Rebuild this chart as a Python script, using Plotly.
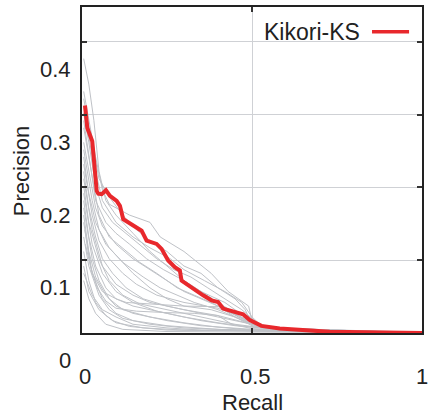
import plotly.graph_objects as go

# ---------------- data ----------------
recall_ks = [0.0088, 0.0156, 0.0302, 0.0432, 0.0479, 0.0579, 0.0705, 0.0822, 0.1019, 0.1116,
             0.1213, 0.1507, 0.1753, 0.19, 0.2194, 0.2341, 0.2534, 0.2731, 0.2878, 0.2928,
             0.3269, 0.3562, 0.3809, 0.4003, 0.415, 0.4444, 0.4737, 0.4934, 0.5278, 0.5815,
             0.6793, 0.7283, 1.0]
precision_ks = [0.3507, 0.3197, 0.3015, 0.2332, 0.2295, 0.2287, 0.2342, 0.2264, 0.2195, 0.2127,
                0.1945, 0.1854, 0.1786, 0.1649, 0.1604, 0.1536, 0.1376, 0.1284, 0.1239, 0.1101,
                0.0989, 0.0898, 0.0829, 0.0806, 0.0716, 0.0679, 0.0638, 0.0557, 0.0478, 0.0443,
                0.0419, 0.0396, 0.0379]

other_recall = [
    [0.005, 0.02, 0.035, 0.05, 0.07, 0.1, 0.15, 0.2, 0.25, 0.3, 0.35, 0.4, 0.45, 0.5, 0.6, 0.8, 1.0],
    [0.005, 0.02, 0.04, 0.06, 0.08, 0.1, 0.14, 0.2, 0.23, 0.3, 0.34, 0.38, 0.43, 0.49, 0.5, 0.52, 0.6, 0.8, 1.0],
    [0.005, 0.03, 0.05, 0.08, 0.12, 0.16, 0.2, 0.25, 0.3, 0.35, 0.4, 0.45, 0.48, 0.5, 0.6, 1.0],
    [0.005, 0.02, 0.04, 0.06, 0.09, 0.13, 0.18, 0.22, 0.27, 0.32, 0.37, 0.42, 0.47, 0.52, 0.6, 1.0],
    [0.005, 0.02, 0.04, 0.07, 0.1, 0.14, 0.19, 0.24, 0.3, 0.35, 0.42, 0.48, 0.55, 0.7, 1.0],
    [0.005, 0.03, 0.05, 0.08, 0.12, 0.17, 0.22, 0.28, 0.33, 0.38, 0.44, 0.5, 0.6, 1.0],
    [0.005, 0.02, 0.04, 0.06, 0.1, 0.15, 0.2, 0.25, 0.3, 0.35, 0.4, 0.45, 0.5, 0.6, 1.0],
    [0.005, 0.03, 0.05, 0.08, 0.12, 0.18, 0.23, 0.28, 0.33, 0.4, 0.46, 0.52, 0.7, 1.0],
    [0.005, 0.02, 0.04, 0.07, 0.1, 0.15, 0.2, 0.25, 0.3, 0.38, 0.45, 0.5, 0.6, 1.0],
    [0.005, 0.03, 0.05, 0.08, 0.12, 0.16, 0.22, 0.3, 0.4, 0.47, 0.55, 1.0],
    [0.005, 0.02, 0.04, 0.06, 0.09, 0.13, 0.18, 0.25, 0.35, 0.45, 0.55, 1.0],
    [0.005, 0.03, 0.06, 0.1, 0.15, 0.2, 0.3, 0.4, 0.5, 0.6, 1.0],
    [0.005, 0.02, 0.05, 0.08, 0.12, 0.17, 0.25, 0.35, 0.45, 0.55, 1.0],
    [0.005, 0.03, 0.06, 0.1, 0.15, 0.22, 0.3, 0.4, 0.5, 1.0],
    [0.005, 0.02, 0.04, 0.07, 0.1, 0.15, 0.25, 0.35, 0.45, 0.6, 1.0],
    [0.005, 0.03, 0.05, 0.08, 0.12, 0.2, 0.3, 0.4, 0.5, 1.0],
    [0.005, 0.02, 0.04, 0.07, 0.1, 0.15, 0.25, 0.35, 0.5, 1.0],
    [0.005, 0.03, 0.06, 0.1, 0.15, 0.25, 0.4, 1.0],
    [0.005, 0.02, 0.05, 0.08, 0.12, 0.2, 0.3, 0.5, 1.0],
    [0.005, 0.02, 0.04, 0.07, 0.1, 0.18, 0.3, 1.0],
    [0.005, 0.02, 0.05, 0.09, 0.14, 0.25, 1.0],
    [0.005, 0.02, 0.04, 0.07, 0.12, 0.25, 1.0],
    [0.005, 0.03, 0.06, 0.1, 0.15, 0.25, 0.35, 1.0],
    [0.01, 0.03, 0.06, 0.1, 0.13, 0.2, 0.3, 0.42, 0.46, 0.55, 1.0],
    [0.008, 0.025, 0.045, 0.07, 0.1, 0.16, 0.25, 0.33, 0.4, 0.44, 0.5, 1.0],
    [0.005, 0.03, 0.06, 0.1, 0.15, 0.2, 0.26, 0.3, 0.36, 0.42, 0.47, 0.5, 0.53, 0.7, 1.0],
]
other_precision = [
    [0.415, 0.38, 0.33, 0.26, 0.22, 0.20, 0.175, 0.15, 0.13, 0.11, 0.095, 0.08, 0.065, 0.05, 0.042, 0.040, 0.038],
    [0.37, 0.33, 0.28, 0.235, 0.215, 0.21, 0.2, 0.19, 0.17, 0.15, 0.135, 0.12, 0.095, 0.075, 0.055, 0.048, 0.044, 0.041, 0.039],
    [0.36, 0.30, 0.25, 0.225, 0.2, 0.18, 0.165, 0.15, 0.13, 0.12, 0.10, 0.085, 0.07, 0.05, 0.043, 0.038],
    [0.34, 0.3, 0.24, 0.21, 0.19, 0.175, 0.155, 0.14, 0.125, 0.115, 0.1, 0.085, 0.07, 0.05, 0.042, 0.038],
    [0.33, 0.28, 0.22, 0.19, 0.175, 0.16, 0.14, 0.125, 0.11, 0.095, 0.08, 0.06, 0.045, 0.04, 0.038],
    [0.32, 0.25, 0.2, 0.17, 0.155, 0.135, 0.12, 0.1, 0.09, 0.08, 0.065, 0.05, 0.042, 0.038],
    [0.3, 0.26, 0.21, 0.185, 0.16, 0.14, 0.125, 0.11, 0.095, 0.085, 0.075, 0.06, 0.048, 0.042, 0.038],
    [0.29, 0.22, 0.18, 0.155, 0.135, 0.115, 0.1, 0.09, 0.08, 0.07, 0.058, 0.046, 0.04, 0.038],
    [0.28, 0.23, 0.19, 0.16, 0.145, 0.12, 0.1, 0.085, 0.075, 0.07, 0.06, 0.05, 0.043, 0.038],
    [0.27, 0.2, 0.165, 0.14, 0.12, 0.105, 0.09, 0.08, 0.072, 0.06, 0.045, 0.038],
    [0.26, 0.21, 0.17, 0.14, 0.12, 0.1, 0.085, 0.075, 0.065, 0.055, 0.045, 0.038],
    [0.25, 0.18, 0.13, 0.105, 0.09, 0.08, 0.07, 0.062, 0.05, 0.043, 0.038],
    [0.24, 0.19, 0.14, 0.11, 0.09, 0.078, 0.07, 0.06, 0.05, 0.044, 0.038],
    [0.23, 0.16, 0.12, 0.095, 0.08, 0.068, 0.06, 0.052, 0.046, 0.038],
    [0.22, 0.17, 0.13, 0.1, 0.085, 0.075, 0.065, 0.055, 0.048, 0.042, 0.038],
    [0.21, 0.14, 0.11, 0.085, 0.07, 0.06, 0.052, 0.046, 0.042, 0.038],
    [0.2, 0.15, 0.115, 0.09, 0.075, 0.065, 0.055, 0.048, 0.043, 0.038],
    [0.19, 0.12, 0.085, 0.065, 0.055, 0.048, 0.043, 0.038],
    [0.17, 0.13, 0.09, 0.07, 0.058, 0.05, 0.045, 0.041, 0.038],
    [0.15, 0.11, 0.08, 0.062, 0.052, 0.045, 0.042, 0.038],
    [0.13, 0.095, 0.07, 0.055, 0.047, 0.042, 0.038],
    [0.11, 0.085, 0.065, 0.05, 0.043, 0.04, 0.038],
    [0.12, 0.09, 0.07, 0.06, 0.05, 0.045, 0.042, 0.038],
    [0.16, 0.12, 0.095, 0.085, 0.08, 0.078, 0.075, 0.074, 0.06, 0.045, 0.038],
    [0.18, 0.13, 0.1, 0.082, 0.072, 0.068, 0.066, 0.065, 0.062, 0.05, 0.044, 0.038],
    [0.35, 0.28, 0.22, 0.19, 0.17, 0.155, 0.14, 0.125, 0.11, 0.095, 0.08, 0.06, 0.047, 0.041, 0.038],
]

series_name = "Kikori-KS"
x_ticks = [0, 0.5, 1]
x_tick_text = ["0", "0.5", "1"]
y_label_vals = [0, 0.1, 0.2, 0.3, 0.4]
y_label_text = ["0", "0.1", "0.2", "0.3", "0.4"]
y_grid = [0.138, 0.238, 0.338, 0.438]
y_range = [0.038, 0.486]

# ---------------- figure ----------------
FONT = "Liberation Sans, Arial, Helvetica, sans-serif"
GRAY = "#bfc2c7"
RED = "#e8282c"

fig = go.Figure()
for xs, ys in zip(other_recall, other_precision):
    fig.add_trace(go.Scatter(x=xs, y=ys, mode="lines",
                             line=dict(color=GRAY, width=1), showlegend=False,
                             hoverinfo="skip"))
fig.add_trace(go.Scatter(x=recall_ks, y=precision_ks, mode="lines", name=series_name,
                         line=dict(color=RED, width=4), showlegend=False))

axis_common = dict(showline=True, linecolor="#222222", linewidth=1.5, mirror="ticks",
                   ticks="inside", ticklen=5, tickcolor="#333333", tickwidth=1.5,
                   gridcolor="#cfd1d5", gridwidth=1, zeroline=False, showticklabels=False)

fig.update_xaxes(range=[0, 1], tickvals=x_ticks, **axis_common)
fig.update_yaxes(range=y_range, tickvals=y_grid, **axis_common)


def y_paper(v):
    return (v - y_range[0]) / (y_range[1] - y_range[0])


annotations = []
for v, t in zip(y_label_vals, y_label_text):
    annotations.append(dict(x=-0.027, xref="paper", y=y_paper(v), yref="paper", text=t,
                            showarrow=False, xanchor="right", yanchor="middle",
                            font=dict(family=FONT, size=22, color="#222")))
for v, t in zip(x_ticks, x_tick_text):
    annotations.append(dict(x=v, xref="x", y=-0.134, yref="paper", text=t, showarrow=False,
                            xanchor="center", yanchor="middle", xshift=3 if v < 1 else 0,
                            font=dict(family=FONT, size=22, color="#222")))
annotations.append(dict(x=0.5, xref="paper", y=-0.213, yref="paper", text="Recall",
                        showarrow=False, xanchor="center", yanchor="middle",
                        font=dict(family=FONT, size=22, color="#222")))
annotations.append(dict(x=-0.176, xref="paper", y=0.497, yref="paper", text="Precision",
                        showarrow=False, xanchor="center", yanchor="middle", textangle=-90,
                        font=dict(family=FONT, size=22, color="#222")))
annotations.append(dict(x=0.8235, xref="paper", y=0.922, yref="paper", text=series_name,
                        showarrow=False, xanchor="right", yanchor="middle",
                        font=dict(family=FONT, size=23, color="#222")))

fig.update_layout(
    width=429, height=420,
    margin=dict(l=82, r=7, t=5, b=87),
    plot_bgcolor="white", paper_bgcolor="white",
    annotations=annotations,
    shapes=[dict(type="line", xref="paper", yref="paper", x0=0.853, x1=0.962,
                 y0=0.9238, y1=0.9238, line=dict(color=RED, width=3.5))],
    showlegend=False,
)

fig.write_html("out.html", config={"displayModeBar": False},
               post_script="document.body.style.margin='0';")
